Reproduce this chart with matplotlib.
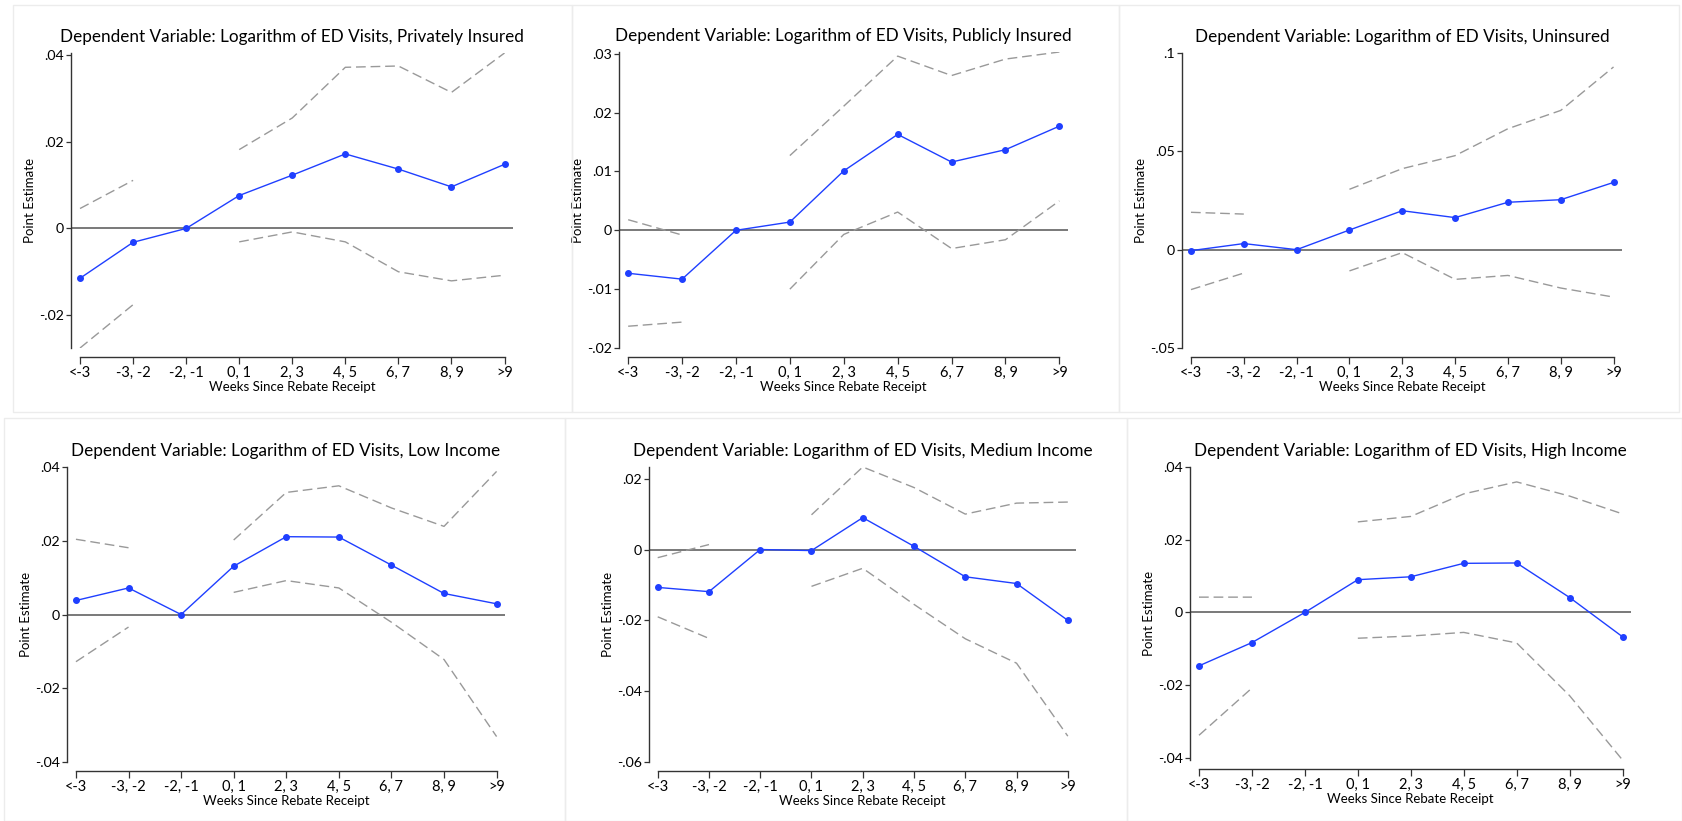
import numpy as np
import matplotlib
matplotlib.use("Agg")
import matplotlib.pyplot as plt
from matplotlib.patches import Rectangle
from matplotlib.ticker import FuncFormatter

plt.rcParams['font.family'] = ['Lato', 'DejaVu Sans']

weeks = ["<-3", "-3, -2", "-2, -1", "0, 1", "2, 3", "4, 5", "6, 7", "8, 9", ">9"]
nan = np.nan

# Privately insured
priv_est = [-0.0115, -0.0032, 0.0, 0.0076, 0.0123, 0.0172, 0.0137, 0.0096, 0.0148]
priv_hi = [0.0046, 0.0111, nan, 0.0182, 0.0255, 0.0372, 0.0375, 0.0314, 0.0405]
priv_lo = [-0.0276, -0.0176, nan, -0.0031, -0.0008, -0.0031, -0.0100, -0.0121, -0.0108]
priv_ticks = [-0.02, 0, 0.02, 0.04]

# Publicly insured
pub_est = [-0.0073, -0.0083, 0.0, 0.0014, 0.0101, 0.0163, 0.0116, 0.0137, 0.0177]
pub_hi = [0.0018, -0.0008, nan, 0.0127, 0.0211, 0.0296, 0.0263, 0.0291, 0.0303]
pub_lo = [-0.0163, -0.0156, nan, -0.0100, -0.0007, 0.0031, -0.0031, -0.0016, 0.0050]
pub_ticks = [-0.02, -0.01, 0, 0.01, 0.02, 0.03]

# Uninsured
unins_est = [-0.0005, 0.0031, 0.0, 0.0100, 0.0198, 0.0163, 0.0241, 0.0254, 0.0342]
unins_hi = [0.0190, 0.0181, nan, 0.0307, 0.0412, 0.0478, 0.0615, 0.0708, 0.0929]
unins_lo = [-0.0203, -0.0119, nan, -0.0108, -0.0015, -0.0151, -0.0131, -0.0195, -0.0241]
unins_ticks = [-0.05, 0, 0.05, 0.1]

# Low income
low_est = [0.0038, 0.0072, 0.0, 0.0131, 0.0211, 0.0210, 0.0134, 0.0057, 0.0029]
low_hi = [0.0204, 0.0181, nan, 0.0202, 0.0331, 0.0349, 0.0289, 0.0239, 0.0388]
low_lo = [-0.0128, -0.0034, nan, 0.0060, 0.0092, 0.0072, -0.0021, -0.0122, -0.0331]
low_ticks = [-0.04, -0.02, 0, 0.02, 0.04]

# Medium income
med_est = [-0.0107, -0.0119, 0.0, -0.0003, 0.0090, 0.0009, -0.0077, -0.0096, -0.0200]
med_hi = [-0.0023, 0.0014, nan, 0.0098, 0.0233, 0.0175, 0.0100, 0.0131, 0.0134]
med_lo = [-0.0190, -0.0251, nan, -0.0104, -0.0053, -0.0155, -0.0252, -0.0321, -0.0527]
med_ticks = [-0.06, -0.04, -0.02, 0, 0.02]

# High income
high_est = [-0.0147, -0.0083, 0.0, 0.0090, 0.0098, 0.0135, 0.0136, 0.0041, -0.0067]
high_hi = [0.0042, 0.0042, nan, 0.0249, 0.0264, 0.0326, 0.0359, 0.0320, 0.0271]
high_lo = [-0.0338, -0.0208, nan, -0.0071, -0.0065, -0.0055, -0.0084, -0.0229, -0.0406]
high_ticks = [-0.04, -0.02, 0, 0.02, 0.04]

groups = ["Privately Insured", "Publicly Insured", "Uninsured",
          "Low Income", "Medium Income", "High Income"]

panels = [
    (priv_est, priv_hi, priv_lo, priv_ticks),
    (pub_est, pub_hi, pub_lo, pub_ticks),
    (unins_est, unins_hi, unins_lo, unins_ticks),
    (low_est, low_hi, low_lo, low_ticks),
    (med_est, med_hi, med_lo, med_ticks),
    (high_est, high_hi, high_lo, high_ticks),
]

W, H = 1682, 821
# axes boxes in pixels: left, right, top, bottom
boxes = [(71, 513, 53, 348), (619, 1068, 52, 348), (1182, 1622, 53, 348),
         (67, 505, 467, 762), (649, 1076, 467, 762), (1190, 1631, 467, 760)]
# light panel frames in pixels: left, right, top, bottom
frames = [(13, 572, 5, 412), (572, 1119, 5, 412), (1119, 1679, 5, 412),
          (4, 565, 418, 821), (565, 1127, 418, 821), (1127, 1682, 418, 821)]

fig = plt.figure(figsize=(W / 100, H / 100), dpi=100)

for l, r, t, b in frames:
    fig.patches.append(Rectangle((l / W, 1 - b / H), (r - l) / W, (b - t) / H,
                                 transform=fig.transFigure, fill=False,
                                 edgecolor="#ececec", linewidth=1.0))


def stata_fmt(v, pos=None):
    if abs(v) < 1e-12:
        return "0"
    s = f"{v:g}"
    return s.replace("0.", ".")


x = np.arange(len(weeks))
for (est, hi, lo, ticks), name, (l, r, t, b) in zip(panels, groups, boxes):
    ax = fig.add_axes([l / W, 1 - b / H, (r - l) / W, (b - t) / H])
    est = np.array(est)
    hi = np.array(hi)
    lo = np.array(lo)
    ymin = min(ticks[0], np.nanmin(lo), np.nanmin(est))
    ymax = max(ticks[-1], np.nanmax(hi), np.nanmax(est))

    ax.axhline(0, color="#555555", lw=1.1, zorder=1)
    ax.plot(x, hi, color="#999999", lw=1.0, dashes=(7, 3.5), zorder=2)
    ax.plot(x, lo, color="#999999", lw=1.0, dashes=(7, 3.5), zorder=2)
    ax.plot(x, est, color="#1f3fff", lw=1.0, marker="o", markersize=4,
            zorder=3, clip_on=False)

    ax.set_xlim(-0.17, 8.16)
    ax.set_ylim(ymin, ymax)
    ax.set_yticks(ticks)
    ax.yaxis.set_major_formatter(FuncFormatter(stata_fmt))
    ax.set_xticks(x)
    ax.set_xticklabels(weeks)

    for s in ["top", "right"]:
        ax.spines[s].set_visible(False)
    ax.spines["left"].set_bounds(ymin, ymax)
    ax.spines["bottom"].set_position(("outward", 6.5))
    ax.spines["bottom"].set_bounds(0, 8)
    for s in ["left", "bottom"]:
        ax.spines[s].set_color("#333333")
        ax.spines[s].set_linewidth(1.0)

    ax.tick_params(axis="y", length=3.5, width=0.9, color="#333333",
                   labelsize=10.2, pad=1.5)
    ax.tick_params(axis="x", length=5, width=0.9, color="#333333",
                   labelsize=10.5, pad=1.5)
    ax.set_ylabel("Point Estimate", fontsize=9.5, labelpad=2)
    ax.set_xlabel("Weeks Since Rebate Receipt", fontsize=9.5, labelpad=1)
    ax.set_title("Dependent Variable: Logarithm of ED Visits, " + name,
                 fontsize=12.3, pad=8)
    ax.patch.set_alpha(0)

fig.savefig("out.png", dpi=100)
